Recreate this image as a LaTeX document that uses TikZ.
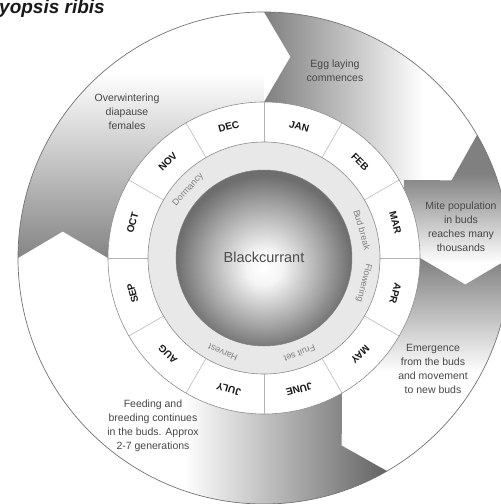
\documentclass[tikz,border=0pt]{standalone}
\usepackage{fontspec}
\setmainfont{Liberation Sans}
\pgfdeclareradialshading{ballshade}{\pgfpoint{0bp}{-3bp}}{color(0bp)=(white); color(5bp)=(white!96!black); color(17bp)=(black!35); color(25bp)=(black!57); color(50bp)=(black!57)}
\newcommand\mysegpath[2]{(#1:246) -- (#1-7.5:203) -- (#1:156) arc[start angle=#1, end angle=#2, radius=156] -- (#2-7.5:203) -- (#2:246) arc[start angle=#2, end angle=#1, radius=246] -- cycle}
\tikzset{
  monthlbl/.style={font=\bfseries\fontsize{10}{12}\selectfont, text=black!90},
  phaselbl/.style={font=\fontsize{9}{11}\selectfont, text=black!50},
  desc/.style={font=\fontsize{10.5}{14}\selectfont, text=black!72, align=center},
  ringline/.style={draw=black!45, line width=0.6pt},
  divline/.style={draw=black!30, line width=0.5pt},
}
\begin{document}
\begin{tikzpicture}[x=1pt,y=1pt]
\useasboundingbox (-264,-246) rectangle (237,258);
\fill[white] (-264,-246) rectangle (237,258);
\clip (-264,-246) rectangle (237,258);
% outer ring arrows
\begin{scope}
  \clip \mysegpath{180}{90};
  \fill[black!48] (-250,-40) rectangle (0,0);
  \shade[top color=white, bottom color=black!48] (-250,0) rectangle (0,185);
\end{scope}
\begin{scope}
  \clip \mysegpath{90}{30};
  \shade[left color=black!50, right color=white] (0,0) rectangle (160,250);
\end{scope}
\begin{scope}
  \clip \mysegpath{30}{0};
  \fill[black!50] (140,85) rectangle (250,140);
  \shade[top color=black!50, bottom color=white] (140,-5) rectangle (250,85);
\end{scope}
\begin{scope}
  \clip \mysegpath{0}{-60};
  \shade[top color=black!50, bottom color=white] (60,-115) rectangle (250,0);
\end{scope}
\begin{scope}
  \clip \mysegpath{-60}{-180};
  \fill[black!62] (125,-250) rectangle (250,0);
  \shade[left color=white, right color=black!62] (-80,-250) rectangle (125,0);
\end{scope}
\draw[draw=black!55, line width=0.7pt] (0,0) circle (246);
% month ring
\draw[ringline, fill=white] (0,0) circle (156);
\foreach \a in {0,30,...,330} \draw[divline] (\a:116) -- (\a:156);
\draw[ringline, fill=black!9] (0,0) circle (116);
\shade[shading=ballshade] (0,0) circle (88);
\draw[draw=black!50, line width=0.5pt] (0,0) circle (88);
% month labels
\foreach \m [count=\i] in {JAN,FEB,MAR,APR,MAY,JUNE,JULY,AUG,SEP,OCT,NOV,DEC}{
  \pgfmathsetmacro\ang{75-30*(\i-1)}
  \node[monthlbl, rotate=\ang-90] (m\i) at (\ang:136) {\m};
}
% phase labels
\node[phaselbl, rotate=48] (p1) at (138:102) {Dormancy};
\node[phaselbl, rotate=-74] (p2) at (16:102) {Bud break};
\node[phaselbl, rotate=-104] (p3) at (-14:103) {Flowering};
\node[phaselbl, rotate=-159.5] (p4) at (-69.5:102) {Fruit set};
\node[phaselbl, rotate=-203.5] (p5) at (-113.5:103) {Harvest};
% centre
\node[font=\fontsize{14.5}{16}\selectfont, text=black!70] (bc) at (0,1) {Blackcurrant};
% descriptions
\node[desc] (t1) at (-137,146) {Overwintering\\diapause\\females};
\node[desc] (t2) at (71,187) {Egg laying\\commences};
\node[desc] (t3) at (197,31) {Mite population\\in buds\\reaches many\\thousands};
\node[desc] (t4) at (169,-111) {Emergence\\from the buds\\and movement\\to new buds};
\node[desc] (t5) at (-111,-168) {Feeding and\\breeding continues\\in the buds. Approx\\2-7 generations};
% title
\node[anchor=base west, inner sep=0pt, font=\bfseries\itshape\fontsize{19}{22}\selectfont, text=black!90] (title) at (-265,244.5) {yopsis ribis};
\end{tikzpicture}
\end{document}
